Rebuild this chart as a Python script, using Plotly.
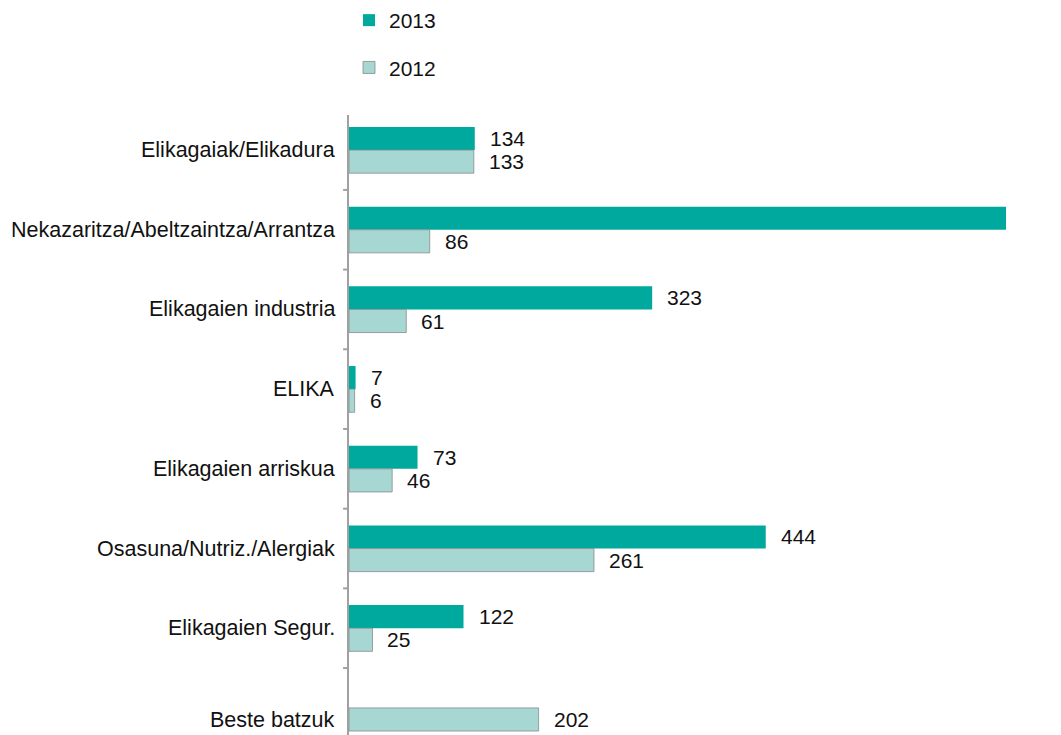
import plotly.graph_objects as go

categories = ["Elikagaiak/Elikadura", "Nekazaritza/Abeltzaintza/Arrantza", "Elikagaien industria",
              "ELIKA", "Elikagaien arriskua", "Osasuna/Nutriz./Alergiak", "Elikagaien Segur.", "Beste batzuk"]
v2013 = [134, 700, 323, 7, 73, 444, 122, None]
v2012 = [133, 86, 61, 6, 46, 261, 25, 202]

C13 = "#00A99D"
C12 = "#A6D7D3"
FONT = "Liberation Sans, Arial, sans-serif"
FS = 21

fig = go.Figure()
fig.add_trace(go.Bar(y=categories, x=v2013, orientation="h", name="2013",
                     marker=dict(color=C13, line=dict(width=0)),
                     legendgroup="a", offsetgroup="a"))
fig.add_trace(go.Bar(y=categories, x=v2012, orientation="h", name="2012",
                     marker=dict(color=C12, line=dict(color="#8a8a8a", width=0.8)),
                     legendgroup="b", offsetgroup="b"))

for i, (c, a, b) in enumerate(zip(categories, v2013, v2012)):
    if a is not None:
        fig.add_annotation(x=a, y=i - 0.145, xref="x", yref="y", text=str(a), showarrow=False,
                           xanchor="left", xshift=13, font=dict(size=FS, color="#111", family=FONT))
    if b is not None:
        fig.add_annotation(x=b, y=i + 0.145, xref="x", yref="y", text=str(b), showarrow=False,
                           xanchor="left", xshift=13, font=dict(size=FS, color="#111", family=FONT))
    # category label
    fig.add_annotation(x=0, y=i, xref="paper", yref="y", text=c, showarrow=False,
                       xanchor="right", xshift=-12, yshift=(-12 if i == len(categories) - 1 else 0),
                       font=dict(size=21.5, color="#111", family=FONT))

fig.update_layout(
    width=1061, height=735,
    paper_bgcolor="white", plot_bgcolor="white",
    barmode="group", bargap=0.42, bargroupgap=0,
    margin=dict(l=341, r=63, t=107, b=8, autoexpand=False),
    font=dict(family=FONT, size=FS, color="#111"),
    legend=dict(x=0.0, y=1 + 115 / 620, xref="paper", yref="paper", xanchor="left", yanchor="top",
                traceorder="grouped", tracegroupgap=17,
                font=dict(size=FS, family=FONT), itemwidth=30, bgcolor="rgba(0,0,0,0)"),
    showlegend=True,
)
fig.update_xaxes(range=[0, 657 / 0.9386], showgrid=False,
                 zeroline=False, showticklabels=False, showline=False, ticks="")
fig.update_yaxes(type="category", categoryorder="array", categoryarray=categories,
                 range=[7.34, -0.44], showgrid=False, zeroline=False, automargin=False,
                 showline=True, linecolor="#a0a0a0", linewidth=2,
                 ticks="", showticklabels=False)
# category boundary ticks
for k in range(0, 9):
    fig.add_shape(type="line", xref="paper", yref="y", x0=-0.009, x1=0, y0=k - 0.5, y1=k - 0.5,
                  line=dict(color="#a0a0a0", width=2))

fig.write_html("out.html")
